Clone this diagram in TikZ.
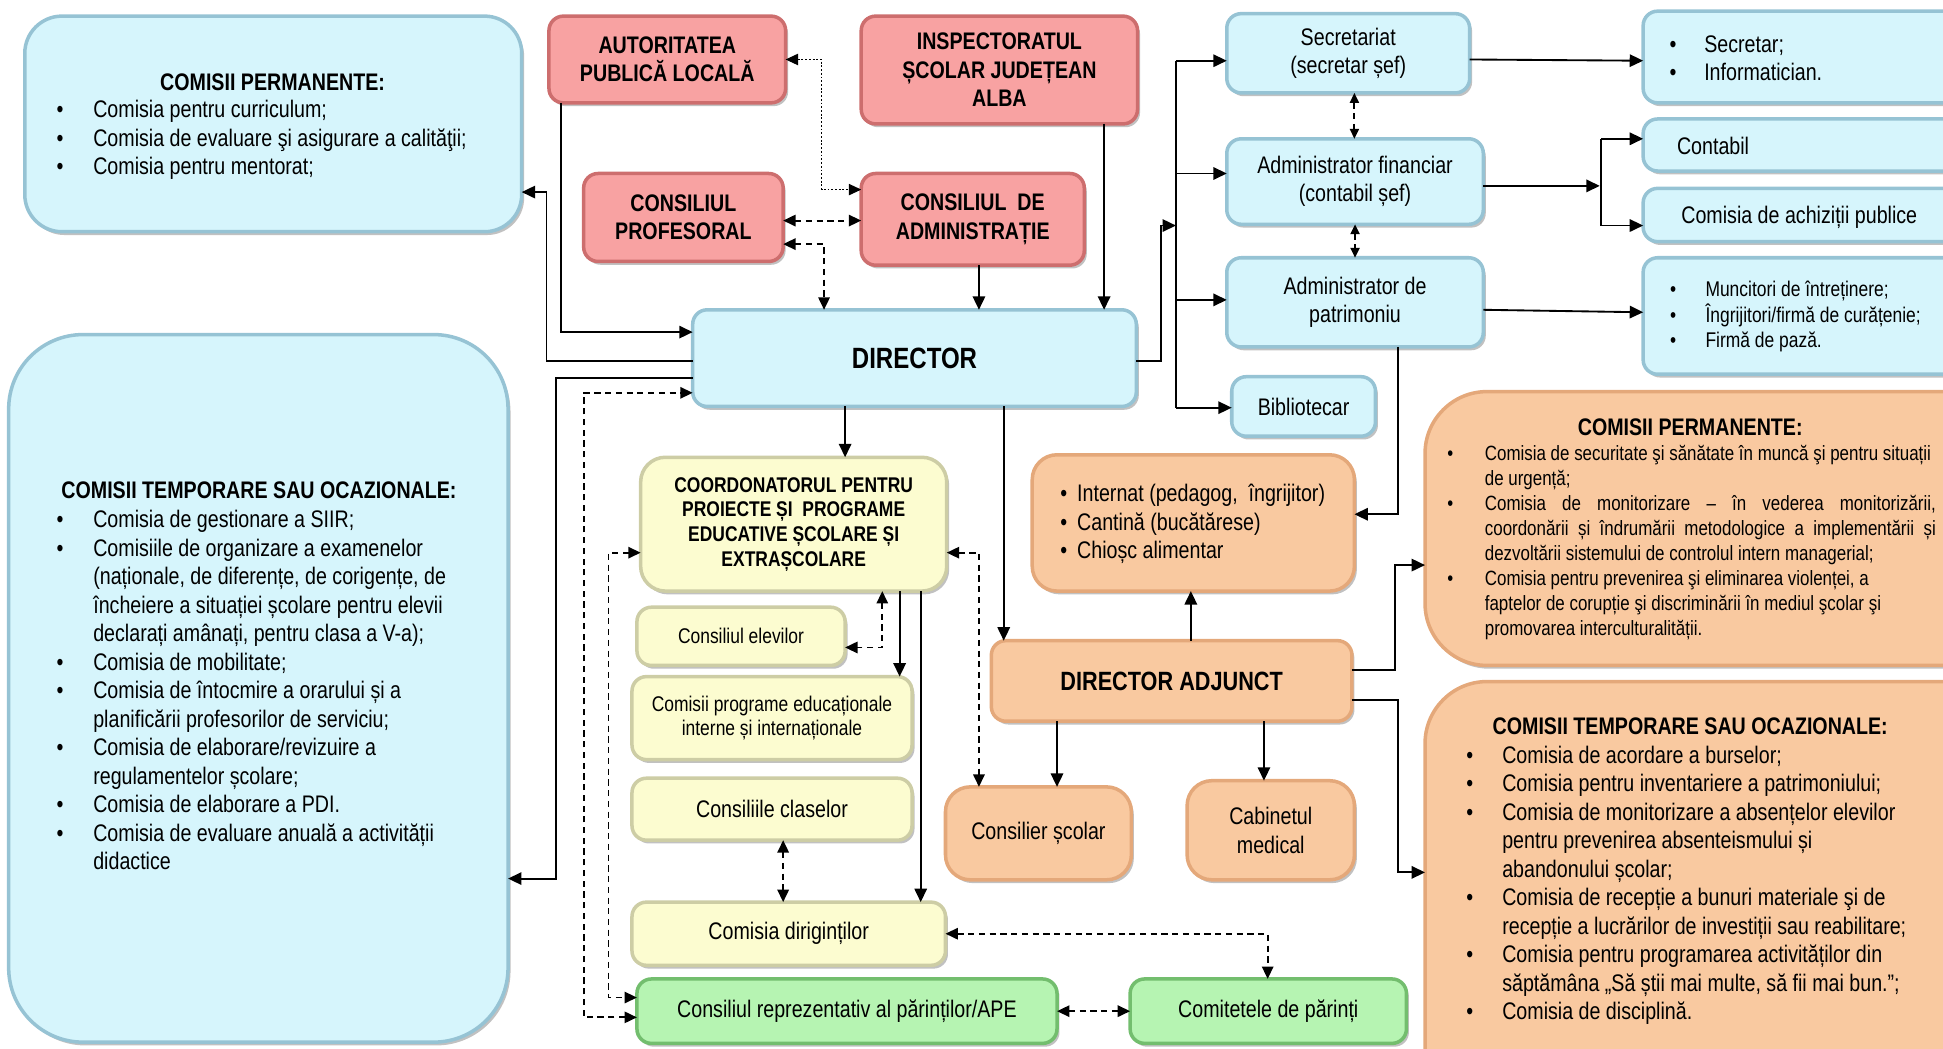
\documentclass[tikz,border=0pt]{standalone}
\usepackage{fontspec}
\setmainfont{Liberation Sans}[FakeStretch=0.82]
\usetikzlibrary{arrows.meta,shadows,calc}
\definecolor{bfill}{RGB}{214,245,252}
\definecolor{bedge}{RGB}{150,195,212}
\definecolor{rfill}{RGB}{248,162,162}
\definecolor{redge}{RGB}{205,110,110}
\definecolor{yfill}{RGB}{252,252,208}
\definecolor{yedge}{RGB}{205,205,165}
\definecolor{ofill}{RGB}{249,201,160}
\definecolor{oedge}{RGB}{228,168,122}
\definecolor{gfill}{RGB}{182,244,178}
\definecolor{gedge}{RGB}{115,190,110}
\newcommand\fnA{\fontsize{11.6pt}{13.8pt}\selectfont}
\newcommand\fnS{\fontsize{10.3pt}{11.9pt}\selectfont}
\newcommand\fnM{\fontsize{10.3pt}{12.3pt}\selectfont}
\newcommand\fnP{\fontsize{10pt}{12.1pt}\selectfont}
\newcommand\fnDir{\fontsize{14.2pt}{16pt}\selectfont\bfseries}
\newcommand\fnDA{\fontsize{12.8pt}{15pt}\selectfont\bfseries}
\newlength\jw \setlength\jw{218.4pt}
\begin{document}
\begin{tikzpicture}[x=0.6pt,y=-0.6pt,
  rb/.style args={#1/#2/#3/#4}{at={({(#1+#3)/2},{(#2+#4)/2})}, minimum width={(#3-#1)*0.6pt}, minimum height={(#4-#2)*0.6pt}},
  bx/.style={inner sep=0pt, outer sep=0pt, line width=1.7pt, rounded corners=7pt, align=center, font=\fnA,
     drop shadow={shadow xshift=1.2pt, shadow yshift=-1.6pt, opacity=0.35, fill=black!70}},
  bluebox/.style={bx, fill=bfill, draw=bedge},
  redbox/.style={bx, fill=rfill, draw=redge, font={\fnA\bfseries}},
  yelbox/.style={bx, fill=yfill, draw=yedge},
  orgbox/.style={bx, fill=ofill, draw=oedge},
  grnbox/.style={bx, fill=gfill, draw=gedge},
  txt/.style={inner sep=0pt, align=center, font=\fnA},
  lst/.style={anchor=base west, inner sep=0pt, font=\fnA},
  arr/.style={line width=0.9pt, -{Triangle[length=6.5pt,width=6pt]}},
  plain/.style={line width=0.9pt},
  darr/.style={line width=0.9pt, dash pattern=on 3pt off 2.2pt, {Triangle[length=6pt,width=5.5pt]}-{Triangle[length=6pt,width=5.5pt]}},
  sdarr/.style={line width=0.9pt, dash pattern=on 3pt off 2.2pt, {Triangle[length=4.8pt,width=4.4pt]}-{Triangle[length=4.8pt,width=4.4pt]}},
  dotarr/.style={line width=0.5pt, dash pattern=on 0.9pt off 0.9pt, {Triangle[length=6pt,width=5.5pt]}-{Triangle[length=6pt,width=5.5pt]}}
]
\useasboundingbox (0,0) rectangle (1568,846);
\clip (0,0) rectangle (1568,846);

% ---------- left big boxes ----------
\node[bluebox, rounded corners=18pt, rb=20/13/421/187] (LP) {};
\node[txt, font={\fnA\bfseries}] (LPt) at (220,66) {COMISII PERMANENTE:};
\node[lst] (LPl) at (45.3,95) {\begin{tabular}[t]{@{}p{17.8pt}@{}l@{}}
•&Comisia pentru curriculum;\\
•&Comisia de evaluare şi asigurare a calităţii;\\
•&Comisia pentru mentorat;
\end{tabular}};

\node[bluebox, rounded corners=36pt, rb=7/270/410/841] (LT) {};
\node[txt, font={\fnA\bfseries}] (LTt) at (209,396) {COMISII TEMPORARE SAU OCAZIONALE:};
\node[lst] (LTl) at (45.3,426) {\begin{tabular}[t]{@{}p{17.8pt}@{}l@{}}
•&Comisia de gestionare a SIIR;\\
•&Comisiile de organizare a examenelor\\
&(naționale, de diferențe, de corigențe, de\\
&încheiere a situației școlare pentru elevii\\
&declarați amânați, pentru clasa a V-a);\\
•&Comisia de mobilitate;\\
•&Comisia de întocmire a orarului și a\\
&planificării profesorilor de serviciu;\\
•&Comisia de elaborare/revizuire a\\
&regulamentelor școlare;\\
•&Comisia de elaborare a PDI.\\
•&Comisia de evaluare anuală a activității\\
&didactice
\end{tabular}};

% ---------- red boxes ----------
\node[redbox, rb=443/13/634/83] (APL) {AUTORITATEA\\PUBLICĂ LOCALĂ};
\node[redbox, rb=695/13/918/100] (ISJ) {INSPECTORATUL\\ȘCOLAR JUDEȚEAN\\ALBA};
\node[redbox, rb=471/140/632/211] (CP) {CONSILIUL\\PROFESORAL};
\node[redbox, rb=695/140/875/214] (CA) {CONSILIUL\ \ DE\\ADMINISTRAȚIE};

% ---------- director ----------
\node[bluebox, rb=559/250/917/328, font=\fnDir] (DIR) {DIRECTOR};

% ---------- right blue column ----------
\node[bluebox, rb=990/11/1186/75] (SEC) {Secretariat\\(secretar șef)};
\node[bluebox, rb=990/112/1197/181] (ADF) {Administrator financiar\\(contabil șef)};
\node[bluebox, rb=990/208/1197/280] (ADP) {Administrator de\\patrimoniu};
\node[bluebox, rb=994/304/1110/352] (BIB) {Bibliotecar};

\node[bluebox, rb=1326/9/1620/83] (SL) {};
\node[lst] (SLl) at (1347,42) {\begin{tabular}[t]{@{}p{16.8pt}@{}l@{}}
•&Secretar;\\
•&Informatician.
\end{tabular}};
\node[bluebox, rb=1326/96/1620/138] (CON) {};
\node[txt, anchor=west] (CONt) at (1353,118) {Contabil};
\node[bluebox, rb=1326/152/1620/195] (ACH) {};
\node[txt] (ACHt) at (1452,175) {Comisia de achiziții publice};
\node[bluebox, rb=1326/208/1620/302] (MUN) {};
\node[lst, font=\fnM] (MUNl) at (1347.5,239) {\begin{tabular}[t]{@{}p{17.1pt}@{}l@{}}
•&Muncitori de întreținere;\\
•&Îngrijitori/firmă de curățenie;\\
•&Firmă de pază.
\end{tabular}};

% ---------- orange right big boxes ----------
\node[orgbox, rounded corners=30pt, rb=1150/316/1620/537] (OP) {};
\node[txt, font={\fnA\bfseries}] (OPt) at (1364,345) {COMISII PERMANENTE:};
\node[lst, font=\fnP] (OPl) at (1167.6,372) {\begin{tabular}[t]{@{}p{18.2pt}@{}l@{}}
•&Comisia de securitate şi sănătate în muncă şi pentru situații\\
&de urgență;\\
•&\makebox[\jw][s]{Comisia de monitorizare – în vederea monitorizării,}\\
&\makebox[\jw][s]{coordonării și îndrumării metodologice a implementării și}\\
&dezvoltării sistemului de controlul intern managerial;\\
•&Comisia pentru prevenirea şi eliminarea violenței, a\\
&faptelor de corupție şi discriminării în mediul şcolar şi\\
&promovarea interculturalității.
\end{tabular}};

\node[orgbox, rounded corners=30pt, rb=1150/550/1620/900] (OT) {};
\node[txt, font={\fnA\bfseries}] (OTt) at (1364,586) {COMISII TEMPORARE SAU OCAZIONALE:};
\node[lst] (OTl) at (1183,616) {\begin{tabular}[t]{@{}p{17.4pt}@{}l@{}}
•&Comisia de acordare a burselor;\\
•&Comisia pentru inventariere a patrimoniului;\\
•&Comisia de monitorizare a absențelor elevilor\\
&pentru prevenirea absenteismului și\\
&abandonului școlar;\\
•&Comisia de recepție a bunuri materiale şi de\\
&recepție a lucrărilor de investiții sau reabilitare;\\
•&Comisia pentru programarea activităților din\\
&săptămâna „Să știi mai multe, să fii mai bun.”;\\
•&Comisia de disciplină.
\end{tabular}};

% ---------- yellow column ----------
\node[yelbox, rounded corners=12pt, rb=517/369/764/477, font={\fnS\bfseries}] (COO) {COORDONATORUL PENTRU\\PROIECTE ȘI\ \ PROGRAME\\EDUCATIVE ȘCOLARE ȘI\\EXTRAȘCOLARE};
\node[yelbox, rb=514/490/682/537, font=\fnS] (CEL) {Consiliul elevilor};
\node[yelbox, rb=510/546/736/613, font=\fnS] (CPE) {Comisii programe educaționale\\interne și internaționale};
\node[yelbox, rb=510/628/736/678] (CCL) {Consiliile claselor};
\node[yelbox, rb=510/728/763/779] (CDI) {Comisia diriginților};
\node[grnbox, rb=514/790/853/842] (APE) {Consiliul reprezentativ al părinților/APE};
\node[grnbox, rb=912/790/1135/842] (CPA) {Comitetele de părinți};

% ---------- orange middle ----------
\node[orgbox, rounded corners=12pt, rb=833/367/1093/477] (INT) {};
\node[lst] (INTl) at (855.3,405) {\begin{tabular}[t]{@{}p{8.2pt}@{}l@{}}
•&Internat (pedagog,\ \ îngrijitor)\\
•&Cantină (bucătărese)\\
•&Chioșc alimentar
\end{tabular}};
\node[orgbox, rb=800/517/1091/582, font=\fnDA] (DA) {DIRECTOR ADJUNCT};
\node[orgbox, rounded corners=12pt, rb=763/635/913/710] (CS) {Consilier școlar};
\node[orgbox, rounded corners=12pt, rb=958/630/1093/710] (CM) {Cabinetul\\medical};

% ---------- connectors ----------
\draw[arr] ($(APL.south west)+(10,0)$) |- ($(DIR.west)+(0,-21)$);
\draw[arr] ($(DIR.west)+(0,2)$) -- ++(-118,0) |- ($(LP.east)+(0,55)$);
\draw[arr] ($(DIR.west)+(0,16)$) -- ++(-110,0) |- ($(LT.east)+(0,153.5)$);
\draw[darr] ($(APE.west)+(0,5)$) -- ++(-43,0) |- ($(DIR.west)+(0,28)$);
\draw[darr] ($(COO.west)+(0,23)$) -- ++(-26,0) |- ($(APE.west)+(0,-11)$);
\draw[dotarr] (APL.east) -- ++(29,0) |- ($(CA.west)+(0,-24)$);
\draw[darr] ($(CP.east)+(0,2.5)$) -- ($(CA.west)+(0,1)$);
\draw[darr] ($(CP.east)+(0,21.5)$) -| ($(DIR.north west)+(106,0)$);
\draw[arr] ($(CA.south)+(5,0)$) -- ($(DIR.north west)+(231,0)$);
\draw[arr] ($(ISJ.south)+(84.5,0)$) -- ($(DIR.north west)+(332,0)$);

\coordinate (busM) at ($(ADF.west)+(-41,35.5)$);
\coordinate (busT) at ($(SEC.west)+(-41,6)$);
\coordinate (busB) at ($(BIB.west)+(-45,1)$);
\draw[arr] ($(DIR.east)+(0,2)$) -| ($(busM)+(-12,0)$) -- (busM);
\draw[plain] (busT) -- (busB);
\draw[arr] (busT) -- (busT -| SEC.west);
\draw[arr] ($(ADF.west)+(-41,-6.5)$) -- ($(ADF.west)+(0,-6.5)$);
\draw[arr] ($(ADP.west)+(-41,-2)$) -- ($(ADP.west)+(0,-2)$);
\draw[arr] (busB) -- (busB -| BIB.west);

\draw[arr] ($(SEC.east)+(0,5)$) -- ($(SL.west)+(0,3)$);
\coordinate (b2T) at ($(CON.west)+(-34,-5)$);
\coordinate (b2B) at ($(ACH.west)+(-34,8.5)$);
\draw[arr] ($(ADF.east)+(0,3.5)$) -- ($(ADF.east)+(94,3.5)$);
\draw[plain] (b2T) -- (b2B);
\draw[arr] (b2T) -- (b2T -| CON.west);
\draw[arr] (b2B) -- (b2B -| ACH.west);
\draw[arr] ($(ADP.east)+(0,6)$) -- ($(MUN.west)+(0,-3)$);
\draw[sdarr] ($(SEC.south)+(5,0)$) -- ($(ADF.north)+(-0.5,0)$);
\draw[sdarr] (ADF.south) -- (ADP.north);
\draw[arr] ($(ADP.south)+(35,0)$) |- ($(INT.east)+(0,-7)$);

\draw[arr] ($(DIR.south west)+(123,0)$) -- ($(COO.north west)+(165,0)$);
\draw[arr] ($(DIR.south west)+(251,0)$) -- ($(DA.north west)+(10,0)$);
\draw[arr] ($(DA.north west)+(161,0)$) -- ($(INT.south west)+(128,0)$);
\draw[arr] ($(DA.east)+(0,-8.5)$) -- ++(35,0) |- ($(OP.west)+(0,29.5)$);
\draw[arr] ($(DA.east)+(0,15.5)$) -- ++(37,0) |- ($(OT.west)+(0,-21)$);
\draw[arr] ($(DA.south west)+(53,0)$) -- ($(CS.north west)+(90,0)$);
\draw[arr] ($(DA.south west)+(220,0)$) -- ($(CM.north west)+(62,0)$);

\draw[darr] ($(COO.south west)+(195,0)$) |- ($(CEL.east)+(0,9)$);
\draw[arr] ($(COO.south west)+(209,0)$) -- ($(CPE.north west)+(216,0)$);
\draw[arr] ($(COO.south west)+(226,0)$) -- ($(CDI.north west)+(233,0)$);
\draw[darr] ($(COO.east)+(0,23)$) -| ($(CS.north west)+(27,0)$);
\draw[darr] ($(CCL.south west)+(122,0)$) -- ($(CDI.north west)+(122,0)$);
\draw[darr] (CDI.east) -| ($(CPA.north west)+(111,0)$);
\draw[darr] (APE.east) -- (CPA.west);
\end{tikzpicture}
\end{document}
